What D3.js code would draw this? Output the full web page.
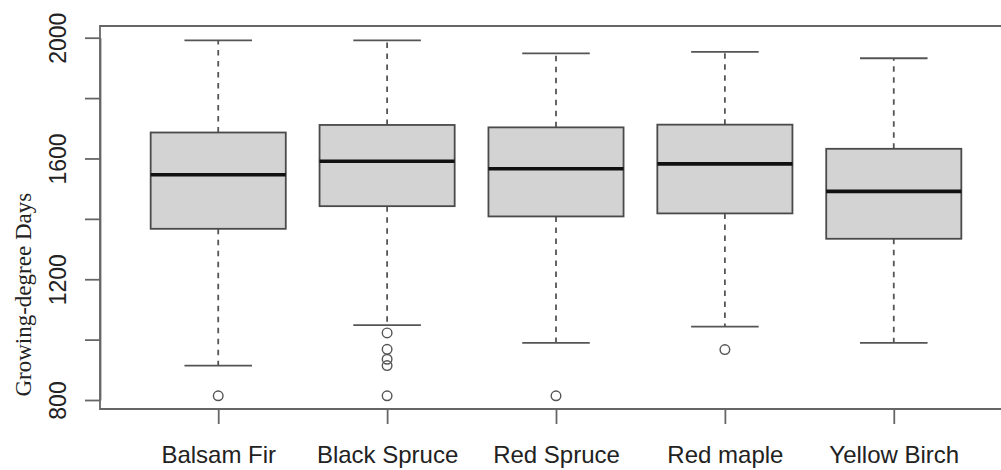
<!DOCTYPE html>
<html>
<head>
<meta charset="utf-8">
<script src="https://cdn.jsdelivr.net/npm/d3@7"></script>
<style>
  html, body { margin: 0; background: #fff; overflow: hidden; }
  #chart svg { display: block; }
</style>
</head>
<body>
<div id="chart"></div>
<script>
// boxplot of growing-degree days per species
var species = ['Balsam Fir', 'Black Spruce', 'Red Spruce', 'Red maple', 'Yellow Birch']
var lowerWhisker = [914, 1048, 989, 1043, 989]
var q1 = [1367, 1442, 1408, 1418, 1334]
var median = [1546, 1591, 1566, 1582, 1491]
var q3 = [1686, 1711, 1703, 1712, 1632]
var upperWhisker = [1991, 1991, 1948, 1953, 1932]
var outliers = [[814], [1022, 968, 935, 914, 814], [814], [967], []]
var yTicks = [800, 1000, 1200, 1400, 1600, 1800, 2000]
var yLabels = [800, 1200, 1600, 2000]

var width = 1001
var height = 470
// right edge of the plot frame lies past the picture, it is cut off there
var frame = { left: 100, right: 1012, top: 26, bottom: 409 }

var svg = d3
  .select('#chart')
  .append('svg')
  .attr('width', width)
  .attr('height', height)

var x = d3
  .scalePoint()
  .domain(species)
  .range([frame.left, frame.right])
  .padding(0.7)

var y = d3
  .scaleLinear()
  .domain([800, 2000])
  .range([400, 37.7])

var step = x.step()
var boxW = step * 0.8
var capW = step * 0.4

var data = species.map(function(s, i) {
  return {
    name: s,
    lo: lowerWhisker[i],
    q1: q1[i],
    med: median[i],
    q3: q3[i],
    hi: upperWhisker[i],
    out: outliers[i]
  }
})

var boxes = svg
  .append('g')
  .selectAll('g')
  .data(data)
  .enter()
  .append('g')

//whiskers
;[['q3', 'hi'], ['q1', 'lo']].forEach(function(k) {
  boxes
    .append('line')
    .attr('x1', function(d) { return x(d.name) })
    .attr('x2', function(d) { return x(d.name) })
    .attr('y1', function(d) { return y(d[k[0]]) })
    .attr('y2', function(d) { return y(d[k[1]]) })
    .attr('stroke', '#555')
    .attr('stroke-width', 1.8)
    .attr('stroke-dasharray', '5.5,5.5')
})

//caps
;['lo', 'hi'].forEach(function(k) {
  boxes
    .append('line')
    .attr('x1', function(d) { return x(d.name) - capW / 2 })
    .attr('x2', function(d) { return x(d.name) + capW / 2 })
    .attr('y1', function(d) { return y(d[k]) })
    .attr('y2', function(d) { return y(d[k]) })
    .attr('stroke', '#555')
    .attr('stroke-width', 1.8)
})

boxes
  .append('rect')
  .attr('x', function(d) { return x(d.name) - boxW / 2 })
  .attr('width', boxW)
  .attr('y', function(d) { return y(d.q3) })
  .attr('height', function(d) { return y(d.q1) - y(d.q3) })
  .attr('fill', '#d3d3d3')
  .attr('stroke', '#4a4a4a')
  .attr('stroke-width', 1.8)

boxes
  .append('line')
  .attr('x1', function(d) { return x(d.name) - boxW / 2 })
  .attr('x2', function(d) { return x(d.name) + boxW / 2 })
  .attr('y1', function(d) { return y(d.med) })
  .attr('y2', function(d) { return y(d.med) })
  .attr('stroke', '#111')
  .attr('stroke-width', 3.6)

boxes
  .selectAll('circle')
  .data(function(d) {
    return d.out.map(function(v) { return [d.name, v] })
  })
  .enter()
  .append('circle')
  .attr('cx', function(d) { return x(d[0]) })
  .attr('cy', function(d) { return y(d[1]) })
  .attr('r', 4.8)
  .attr('fill', 'none')
  .attr('stroke', '#555')
  .attr('stroke-width', 1.4)

//frame: left, top and bottom only, the right side is outside the picture
svg
  .append('path')
  .attr(
    'd',
    'M' + width + ' ' + frame.top +
    'H' + frame.left +
    'V' + frame.bottom +
    'H' + width
  )
  .attr('fill', 'none')
  .attr('stroke', '#666')
  .attr('stroke-width', 1.8)

//y axis
var yAxis = svg
  .append('g')
  .attr('transform', 'translate(' + frame.left + ',0)')
  .call(
    d3
      .axisLeft(y)
      .tickValues(yTicks)
      .tickSize(15)
      .tickSizeOuter(0)
      .tickFormat(function(d) {
        return yLabels.indexOf(d) > -1 ? d : ''
      })
  )
yAxis.selectAll('path, line').attr('stroke', '#666').attr('stroke-width', 1.8)
yAxis
  .selectAll('text')
  .attr('x', 0)
  .attr('dy', 0)
  .attr('text-anchor', 'middle')
  .attr('transform', 'translate(-34.5,0) rotate(-90)')
  .style('font-family', "'Liberation Sans', Arial, sans-serif")
  .style('font-size', '23px')
  .attr('fill', '#222')

//x axis
var xAxis = svg
  .append('g')
  .attr('transform', 'translate(0,' + frame.bottom + ')')
  .call(d3.axisBottom(x).tickSize(15).tickSizeOuter(0))
xAxis.select('.domain').remove()
xAxis.selectAll('line').attr('stroke', '#666').attr('stroke-width', 1.8)
xAxis
  .selectAll('text')
  .attr('y', 54)
  .attr('dy', 0)
  .style('font-family', "'Liberation Sans', Arial, sans-serif")
  .style('font-size', '24px')
  .attr('fill', '#222')

//axis title
svg
  .append('text')
  .attr('transform', 'translate(31,294.7) rotate(-90)')
  .attr('text-anchor', 'middle')
  .style('font-family', "'Liberation Serif', 'Times New Roman', serif")
  .style('font-size', '23px')
  .attr('fill', '#222')
  .text('Growing-degree Days')
</script>
</body>
</html>
